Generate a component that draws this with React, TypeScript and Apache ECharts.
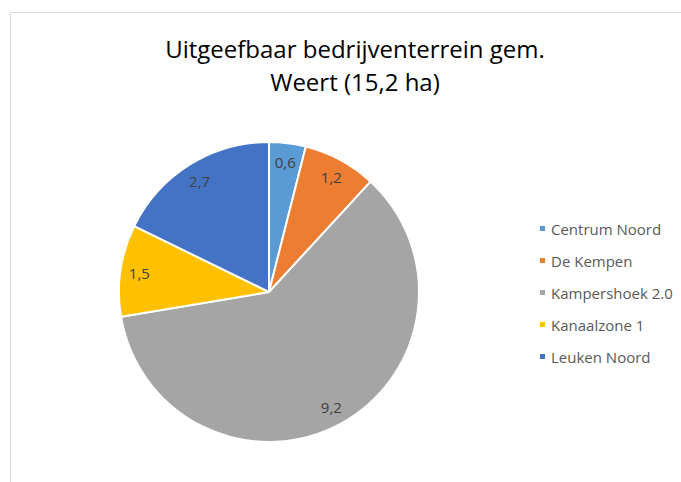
import React, { useEffect, useRef } from "react";
import * as echarts from "echarts";

const titleLines = ["Uitgeefbaar bedrijventerrein gem.", "Weert (15,2 ha)"];
const categories = ["Centrum Noord", "De Kempen", "Kampershoek 2.0", "Kanaalzone 1", "Leuken Noord"];
const values = [0.6, 1.2, 9.2, 1.5, 2.7];
const colors = ["#5B9BD5", "#ED7D31", "#A5A5A5", "#FFC000", "#4472C4"];

const FONT = "'Open Sans', sans-serif";

export default function App() {
  const ref = useRef<HTMLDivElement>(null);
  useEffect(() => {
    if (!ref.current) return;
    const chart = echarts.init(ref.current, undefined, { renderer: "svg" });
    const data = categories.map((name, i) => ({ name, value: values[i], itemStyle: { color: colors[i] } }));
    const fmt = (p: any) => String(p.value).replace(".", ",");
    chart.setOption({
      animation: false,
      backgroundColor: "#ffffff",
      title: {
        text: titleLines.join("\n"),
        left: 350,
        top: 27,
        textAlign: "center",
        textStyle: { fontFamily: FONT, fontSize: 24, fontWeight: "normal", color: "#000000", lineHeight: 33 },
      },
      legend: {
        orient: "vertical",
        left: 533,
        top: 216,
        itemWidth: 7,
        itemHeight: 7,
        itemGap: 17,
        icon: "rect",
        data: categories,
        textStyle: { fontFamily: FONT, fontSize: 15, color: "#595959" },
      },
      graphic: [
        {
          type: "rect",
          shape: { x: 10.5, y: 12.5, width: 700, height: 500 },
          style: { fill: "none", stroke: "#d9d9d9", lineWidth: 1 },
          silent: true,
        },
      ],
      series: [
        {
          type: "pie",
          center: [269, 292],
          radius: [0, 150],
          startAngle: 90,
          clockwise: true,
          data,
          label: { show: false },
          labelLine: { show: false },
          itemStyle: { borderColor: "#ffffff", borderWidth: 2 },
        },
        {
          type: "pie",
          center: [269, 292],
          radius: [106, 150],
          startAngle: 90,
          clockwise: true,
          silent: true,
          data: categories.map((name, i) => ({ name, value: values[i] })),
          itemStyle: { color: "rgba(0,0,0,0)", borderWidth: 0 },
          label: {
            show: true,
            position: "inside",
            formatter: fmt,
            fontFamily: FONT,
            fontSize: 15,
            color: "#404040",
          },
          labelLine: { show: false },
        },
      ],
    });
    return () => chart.dispose();
  }, []);
  return (
    <div
      ref={ref}
      style={{ position: "fixed", left: 0, top: 0, width: 681, height: 482 }}
    />
  );
}
